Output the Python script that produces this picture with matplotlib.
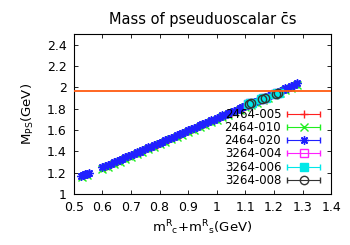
import matplotlib
matplotlib.use("Agg")
import matplotlib.pyplot as plt
from matplotlib.container import ErrorbarContainer
from matplotlib.legend_handler import HandlerErrorbar

# 2464-020 (blue)
x_020 = [0.525, 0.532, 0.539, 0.546, 0.553,
         0.60, 0.61, 0.62, 0.63, 0.64, 0.65, 0.66, 0.67, 0.68, 0.69,
         0.70, 0.71, 0.72, 0.73, 0.74, 0.75, 0.76, 0.77, 0.78, 0.79,
         0.80, 0.81, 0.82, 0.83, 0.84, 0.85, 0.86, 0.87, 0.88, 0.89,
         0.90, 0.91, 0.92, 0.93, 0.94, 0.95, 0.96, 0.97, 0.98, 0.99,
         1.00, 1.01, 1.02, 1.03, 1.04, 1.05, 1.06, 1.07, 1.08, 1.09,
         1.10, 1.11, 1.12, 1.13, 1.14, 1.15, 1.16, 1.17, 1.18, 1.19,
         1.20, 1.21, 1.22, 1.23, 1.24, 1.25, 1.26, 1.27, 1.28]
y_020 = [1.172, 1.178, 1.186, 1.190, 1.200,
         1.252, 1.260, 1.275, 1.283, 1.298, 1.306, 1.322, 1.329, 1.345, 1.352,
         1.368, 1.375, 1.391, 1.398, 1.414, 1.421, 1.437, 1.444, 1.460, 1.467,
         1.483, 1.491, 1.506, 1.514, 1.529, 1.537, 1.552, 1.560, 1.575, 1.583,
         1.598, 1.606, 1.621, 1.629, 1.645, 1.652, 1.668, 1.675, 1.691, 1.698,
         1.714, 1.721, 1.737, 1.744, 1.760, 1.767, 1.783, 1.790, 1.806, 1.814,
         1.829, 1.837, 1.852, 1.860, 1.875, 1.883, 1.898, 1.906, 1.921, 1.929,
         1.944, 1.952, 1.967, 1.975, 1.991, 1.998, 2.014, 2.021, 2.037]

# 2464-010 (green)
x_010 = [0.530, 0.545, 0.60, 0.62, 0.64, 0.66, 0.68, 0.70, 0.72, 0.74, 0.76,
         0.78, 0.80, 0.82, 0.84, 0.86, 0.88, 0.90, 0.92, 0.94, 0.96, 0.98,
         1.00, 1.02, 1.04, 1.06, 1.08, 1.10, 1.12, 1.14, 1.16, 1.18, 1.20,
         1.22, 1.24, 1.26, 1.28]
y_010 = [1.160, 1.176, 1.236, 1.258, 1.281, 1.305, 1.328, 1.351, 1.374,
         1.397, 1.420, 1.443, 1.466, 1.489, 1.512, 1.535, 1.558, 1.581,
         1.604, 1.628, 1.651, 1.674, 1.697, 1.720, 1.743, 1.766, 1.789,
         1.812, 1.835, 1.858, 1.881, 1.904, 1.927, 1.950, 1.974, 1.997, 2.020]

# 2464-005 (red)
x_005 = [0.535, 0.61, 0.63, 0.65, 0.67, 0.69, 0.71, 0.73, 0.75, 0.77, 0.79,
         0.81, 0.83, 0.85, 0.87, 0.89, 0.91, 0.93, 0.95, 0.97, 0.99, 1.01,
         1.03, 1.05, 1.07, 1.09, 1.11, 1.13, 1.15, 1.17, 1.19, 1.21, 1.23,
         1.25, 1.27]
y_005 = [1.178, 1.257, 1.280, 1.303, 1.326, 1.349, 1.372, 1.395, 1.418,
         1.441, 1.464, 1.488, 1.511, 1.534, 1.557, 1.580, 1.603, 1.626,
         1.649, 1.672, 1.695, 1.718, 1.741, 1.764, 1.787, 1.811, 1.834,
         1.857, 1.880, 1.903, 1.926, 1.949, 1.972, 1.995, 2.018]

# 3264 ensembles
x_004 = [1.110, 1.118, 1.157, 1.165, 1.204, 1.212]
y_004 = [1.843, 1.852, 1.890, 1.899, 1.937, 1.946]
x_006 = [1.108, 1.116, 1.124, 1.155, 1.163, 1.171, 1.202, 1.210, 1.218]
y_006 = [1.842, 1.850, 1.858, 1.889, 1.897, 1.905, 1.936, 1.944, 1.952]
x_008 = [1.112, 1.120, 1.159, 1.167, 1.206, 1.214]
y_008 = [1.846, 1.854, 1.893, 1.901, 1.940, 1.948]

m_ds = 1.968

series = [
    ("2464-005", x_005, y_005, "#ff2020", "+", False),
    ("2464-010", x_010, y_010, "#20ee20", "x", False),
    ("2464-020", x_020, y_020, "#2020ff", (8, 2, 0), False),
    ("3264-004", x_004, y_004, "#ff20ff", "s", False),
    ("3264-006", x_006, y_006, "#00e8e8", "s", True),
    ("3264-008", x_008, y_008, "#333333", "o", False),
]

fig = plt.figure(figsize=(3.5, 2.45), dpi=100)
ax = fig.add_axes([0.211, 0.208, 0.735, 0.653])

for label, xs, ys, col, mk, filled in series:
    xe = [0.004] * len(xs)
    ax.errorbar(xs, ys, xerr=xe, linestyle="none", marker=mk, color=col,
                ms=6, mfc=col if filled else "none", mew=1.0,
                elinewidth=0.8, capsize=2, label=label)

ax.axhline(m_ds, color="#ff5a10", lw=1.3, zorder=5)

ax.set_xlim(0.5, 1.4)
ax.set_ylim(1.0, 2.5)
ax.set_xticks([0.5, 0.6, 0.7, 0.8, 0.9, 1.0, 1.1, 1.2, 1.3, 1.4])
ax.set_xticklabels(["0.5", "0.6", "0.7", "0.8", "0.9", "1", "1.1", "1.2", "1.3", "1.4"])
ax.set_yticks([1.0, 1.2, 1.4, 1.6, 1.8, 2.0, 2.2, 2.4])
ax.set_yticklabels(["1", "1.2", "1.4", "1.6", "1.8", "2", "2.2", "2.4"])
ax.tick_params(direction="in", top=True, right=True, length=3, width=0.6,
               labelsize=9, pad=5, colors="black")
for sp in ax.spines.values():
    sp.set_linewidth(0.8)

ax.set_title("Mass of pseuduoscalar c\u0304s", fontsize=10.5, pad=7)
ax.set_xlabel(r"m$^{\mathregular{R}}{}_{\mathregular{c}}$+m$^{\mathregular{R}}{}_{\mathregular{s}}$(GeV)",
              fontsize=9.5, labelpad=3)
ax.set_ylabel(r"M$_{\mathregular{PS}}$(GeV)", fontsize=9.5, labelpad=8)

ax.legend(loc="lower right", frameon=False, markerfirst=False, fontsize=8.5,
          handlelength=2.8, handletextpad=0.5, labelspacing=0.02,
          borderaxespad=0.2, bbox_to_anchor=(0.985, 0.0),
          handler_map={ErrorbarContainer: HandlerErrorbar(xerr_size=1.4)})

fig.savefig("out.png", dpi=100)
